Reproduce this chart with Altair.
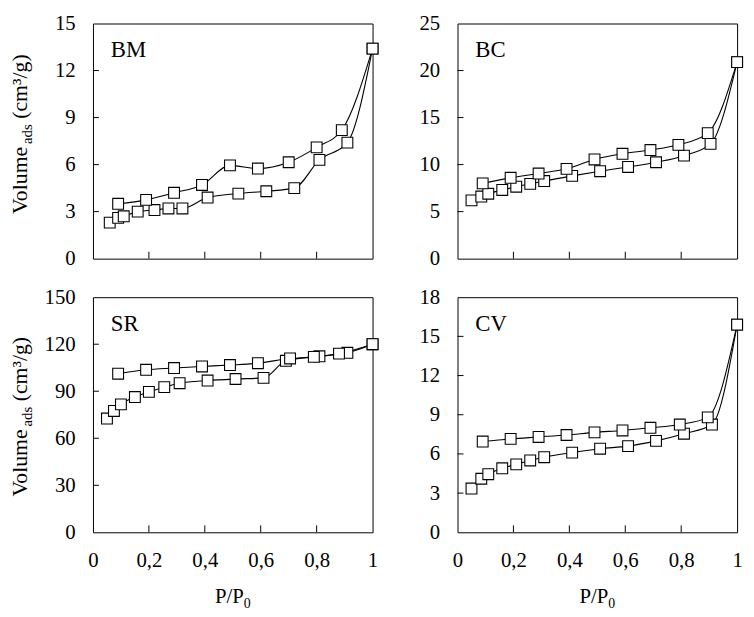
import altair as alt
import pandas as pd

FONT = "Liberation Serif"

# ---------------- data ----------------
panel_names = ["BM", "BC", "SR", "CV"]
y_max = [15, 25, 150, 18]
y_step = [3, 5, 30, 3]

bm_ads_x = [0.06, 0.09, 0.11, 0.16, 0.22, 0.27, 0.32, 0.41, 0.52, 0.62, 0.72, 0.81, 0.91, 1.0]
bm_ads_y = [2.3, 2.6, 2.7, 3.0, 3.1, 3.2, 3.2, 3.9, 4.15, 4.3, 4.5, 6.3, 7.4, 13.4]
bm_des_x = [1.0, 0.89, 0.80, 0.70, 0.59, 0.49, 0.39, 0.29, 0.19, 0.09]
bm_des_y = [13.4, 8.2, 7.1, 6.15, 5.75, 5.95, 4.7, 4.2, 3.75, 3.5]

bc_ads_x = [0.05, 0.085, 0.11, 0.16, 0.21, 0.26, 0.31, 0.41, 0.51, 0.61, 0.71, 0.81, 0.905, 1.0]
bc_ads_y = [6.2, 6.6, 6.9, 7.3, 7.65, 7.95, 8.25, 8.8, 9.3, 9.75, 10.25, 10.95, 12.2, 20.9]
bc_des_x = [1.0, 0.895, 0.79, 0.69, 0.59, 0.49, 0.39, 0.29, 0.19, 0.09]
bc_des_y = [20.9, 13.35, 12.1, 11.55, 11.15, 10.55, 9.55, 9.05, 8.6, 8.0]

sr_ads_x = [0.05, 0.075, 0.10, 0.15, 0.20, 0.255, 0.31, 0.41, 0.51, 0.61, 0.69, 0.81, 0.91, 1.0]
sr_ads_y = [72.6, 77.4, 81.6, 86.3, 89.6, 92.6, 95.1, 96.8, 97.8, 98.5, 109.4, 112.3, 114.5, 120.0]
sr_des_x = [1.0, 0.88, 0.79, 0.705, 0.59, 0.49, 0.39, 0.29, 0.19, 0.09]
sr_des_y = [120.0, 114.0, 111.9, 110.9, 107.9, 106.7, 105.8, 104.8, 103.7, 101.2]

cv_ads_x = [0.05, 0.085, 0.11, 0.16, 0.21, 0.26, 0.31, 0.41, 0.51, 0.61, 0.71, 0.81, 0.91, 1.0]
cv_ads_y = [3.35, 4.1, 4.45, 4.9, 5.2, 5.5, 5.75, 6.1, 6.4, 6.6, 7.0, 7.55, 8.25, 15.9]
cv_des_x = [1.0, 0.895, 0.795, 0.69, 0.59, 0.49, 0.39, 0.29, 0.19, 0.09]
cv_des_y = [15.9, 8.8, 8.25, 8.0, 7.8, 7.65, 7.45, 7.3, 7.15, 6.95]

x_ticks = [0, 0.2, 0.4, 0.6, 0.8, 1.0]
x_inner_ticks = [0.2, 0.4, 0.6, 0.8]

y_title_main = "Volume"
y_title_sub = "ads"
y_title_rest = "(cm³/g)"
x_title_main = "P/P"
x_title_sub = "0"

series = {
    "BM": (bm_ads_x, bm_ads_y, bm_des_x, bm_des_y),
    "BC": (bc_ads_x, bc_ads_y, bc_des_x, bc_des_y),
    "SR": (sr_ads_x, sr_ads_y, sr_des_x, sr_des_y),
    "CV": (cv_ads_x, cv_ads_y, cv_des_x, cv_des_y),
}

W = 283
H = 238
LABEL_SIZE = 21


def panel(name, ymax, ystep, left, bottom, title_center):
    ax, ay, dx, dy = series[name]
    df = pd.DataFrame({
        "x": ax + dx,
        "y": ay + dy,
        "branch": ["ads"] * len(ax) + ["des"] * len(dx),
    })
    yvals = list(range(0, ymax + 1, ystep))
    xscale = alt.Scale(domain=[0, 1], nice=False, zero=False)
    yscale = alt.Scale(domain=[0, ymax], nice=False)

    xaxis = alt.Axis(
        values=x_ticks, title=None, grid=False, domain=False, ticks=False, tickSize=0,
        labels=bottom, format="~g", labelExpr="replace(datum.label, '.', ',')",
        labelFlush=False, labelOverlap=False,
        labelFont=FONT, labelFontSize=LABEL_SIZE, labelColor="black", labelPadding=18,
    )
    yaxis = alt.Axis(
        values=yvals, title=None, grid=False, domain=False, ticks=False, tickSize=0,
        labels=True, labelFont=FONT, labelFontSize=LABEL_SIZE, labelColor="black",
        labelPadding=18, labelFlush=False, labelOverlap=False,
    )
    X = alt.X("x:Q", scale=xscale, axis=xaxis)
    Y = alt.Y("y:Q", scale=yscale, axis=yaxis)

    line = alt.Chart(df).mark_line(
        color="black", strokeWidth=1.1, interpolate="monotone"
    ).encode(x=X, y=Y, detail="branch:N")
    pts = alt.Chart(df).mark_point(
        shape="square", filled=True, fill="white", stroke="black",
        strokeWidth=1.1, size=120, opacity=1,
    ).encode(x=X, y=Y)

    xt = pd.DataFrame({"x": x_inner_ticks})
    xtick = alt.Chart(xt).mark_rule(color="black", strokeWidth=1).encode(
        x=X, y=alt.value(H), y2=alt.value(H - 7),
    )
    yt = pd.DataFrame({"y": yvals[1:-1]})
    ytick = alt.Chart(yt).mark_rule(color="black", strokeWidth=1).encode(
        y=Y, x=alt.value(0), x2=alt.value(6),
    )

    lab = alt.Chart(pd.DataFrame({"t": [name]})).mark_text(
        font=FONT, fontSize=23, align="left", baseline="alphabetic", color="black"
    ).encode(text="t:N", x=alt.value(18), y=alt.value(34))

    layers = [line, xtick, ytick, pts, lab]

    if left:
        F, f = 22, 15
        w_main = 3.222 * F
        w_sub = 1.333 * f
        w_space = 0.25 * F
        w_rest = 2.966 * F
        total = w_main + w_sub + w_space + w_rest
        y0 = title_center + total / 2
        common = dict(font=FONT, angle=270, align="left", baseline="alphabetic", color="black")
        t1 = alt.Chart(pd.DataFrame({"t": [y_title_main]})).mark_text(
            fontSize=F, **common
        ).encode(text="t:N", x=alt.value(-67), y=alt.value(y0))
        t2 = alt.Chart(pd.DataFrame({"t": [y_title_sub]})).mark_text(
            fontSize=f, dx=w_main, dy=5, **common
        ).encode(text="t:N", x=alt.value(-67), y=alt.value(y0))
        t3 = alt.Chart(pd.DataFrame({"t": [y_title_rest]})).mark_text(
            fontSize=F, dx=w_main + w_sub + w_space, **common
        ).encode(text="t:N", x=alt.value(-67), y=alt.value(y0))
        layers += [t1, t2, t3]

    if bottom:
        F, f = 21, 14
        w_main = 1.39 * F
        w_sub = 0.5 * f
        x0 = W / 2 - (w_main + w_sub) / 2
        common = dict(font=FONT, align="left", baseline="alphabetic", color="black")
        b1 = alt.Chart(pd.DataFrame({"t": [x_title_main]})).mark_text(
            fontSize=F, **common
        ).encode(text="t:N", x=alt.value(x0), y=alt.value(H + 72))
        b2 = alt.Chart(pd.DataFrame({"t": [x_title_sub]})).mark_text(
            fontSize=f, dx=w_main, dy=5, **common
        ).encode(text="t:N", x=alt.value(x0), y=alt.value(H + 72))
        layers += [b1, b2]

    return alt.layer(*layers).properties(width=W, height=H)


p_bm = panel("BM", 15, 3, True, False, 112)
p_bc = panel("BC", 25, 5, False, False, 112)
p_sr = panel("SR", 150, 30, True, True, 121)
p_cv = panel("CV", 18, 3, False, True, 121)

chart = alt.concat(p_bm, p_bc, p_sr, p_cv, columns=2).properties(
    spacing={"row": 39, "column": 86},
    bounds="flush",
    padding={"left": 0, "top": 0, "right": 0, "bottom": 0},
    background="white",
).configure_view(
    stroke="black", strokeWidth=1
)

chart.save("out.html", embed_options={"renderer": "svg", "actions": False})
